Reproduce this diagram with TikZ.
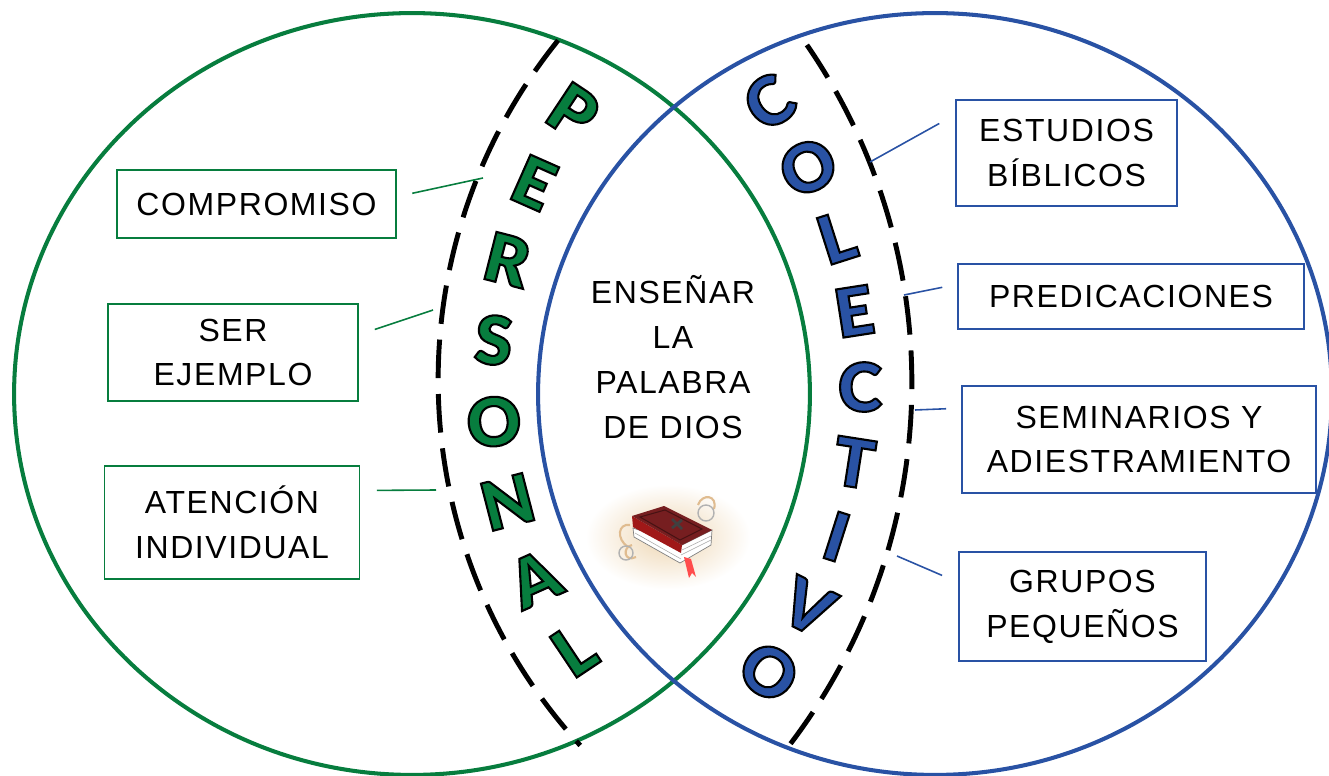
\documentclass[tikz,border=0pt]{standalone}
\usepackage{fontspec}
\setmainfont{Liberation Sans}[LetterSpace=5]
\IfFontExistsTF{Lato Black}
  {\newfontfamily\heavyfont{Lato Black}}
  {\newfontfamily\heavyfont{Liberation Sans}[UprightFont=*-Bold]}
\usepackage{tikz}
\usetikzlibrary{positioning}
\definecolor{vgreen}{RGB}{7,125,62}
\definecolor{vblue}{RGB}{41,82,164}
\definecolor{bookred}{RGB}{118,30,32}
\definecolor{spinered}{RGB}{160,24,24}
\definecolor{glowtan}{RGB}{238,214,178}
\newcommand\outlined[1]{\special{pdf:literal 2 Tr 1.2 w 0 G}#1\special{pdf:literal 0 Tr}}

\begin{document}
\begin{tikzpicture}[x=0.02cm,y=0.02cm,
    txt/.style={font=\fontsize{18.2}{25.6}\selectfont},
    gbox/.style={draw=vgreen,line width=1pt,txt,align=center,inner sep=0pt},
    bbox/.style={draw=vblue,line width=1pt,txt,align=center,inner sep=0pt},
    gline/.style={vgreen,line width=0.9pt},
    bline/.style={vblue,line width=0.9pt},
    ring/.style={line width=2.3pt},
    dasharc/.style={line width=2.8pt,dash pattern=on 22pt off 9pt},
    bigletter/.style={font=\fontsize{38}{38}\selectfont\heavyfont,inner sep=0pt},
  ]
\useasboundingbox (0,0) rectangle (1329,775);
\clip (0,0) rectangle (1329,775);

\draw[vgreen,ring] (412,381) ellipse [x radius=7.96cm,y radius=7.62cm];
\draw[vblue,ring] (935,381) ellipse [x radius=7.94cm,y radius=7.62cm];

\coordinate (pc) at (979,395);
\coordinate (cc) at (368,388);
\draw[dasharc] ([shift={(141.1:10.82cm)}]979,395) arc[start angle=141.1,end angle=222.5,radius=10.82cm];
\draw[dasharc] ([shift={(34.5:11.94cm)}]315,392) arc[start angle=34.5,end angle=-37.3,radius=11.94cm];

\foreach \ch [count=\i from 0] in {P,E,R,S,O,N,A,L} {
  \pgfmathsetmacro\ang{146.5+9.6*\i}
  \node[bigletter,text=vgreen,rotate=\ang-180] (p\i) at ([shift={(\ang:9.74cm)}]pc) {\outlined{\ch}};
}
\foreach \ch [count=\i from 0] in {C,O,L,E,C,T,I,V,O} {
  \pgfmathsetmacro\ang{35.4-8.85*\i}
  \node[bigletter,text=vblue,rotate=\ang] (c\i) at ([shift={(\ang:9.84cm)}]cc) {\outlined{\ch}};
}

\node[gbox,minimum width=5.58cm,minimum height=1.36cm] (comp) at (256.5,571) {COMPROMISO};
\node[gbox,minimum width=5.0cm,minimum height=1.94cm] (ser) at (233,422.5) {SER\\EJEMPLO};
\node[gbox,minimum width=5.1cm,minimum height=2.26cm] (aten) at (232,252.5) {ATENCIÓN\\INDIVIDUAL};
\node[bbox,minimum width=4.42cm,minimum height=2.12cm] (estu) at (1066.5,622) {ESTUDIOS\\BÍBLICOS};
\node[bbox,minimum width=6.92cm,minimum height=1.3cm] (pred) at (1131,478.5) {PREDICACIONES};
\node[bbox,minimum width=7.08cm,minimum height=2.14cm] (semi) at (1139,335.5) {SEMINARIOS Y\\ADIESTRAMIENTO};
\node[bbox,minimum width=4.94cm,minimum height=2.18cm] (grup) at (1082.5,168.5) {GRUPOS\\PEQUEÑOS};

\node[txt,align=center,inner sep=0pt] (word) at (673,418) {ENSEÑAR\\LA\\PALABRA\\DE DIOS};

\coordinate (e1) at (483,597);
\coordinate (e2) at (433,465);
\coordinate (e3) at (436,285);
\coordinate (e4) at (870,613);
\coordinate (e5) at (904,480);
\coordinate (e6) at (915,365);
\coordinate (e7) at (897,219);
\draw[gline,shorten <=0.316cm] (comp.3) -- (e1);
\draw[gline,shorten <=0.336cm] (ser.8.3) -- (e2);
\draw[gline,shorten <=0.33cm] (aten.14.3) -- (e3);
\draw[bline,shorten <=0.364cm] (estu.161.2) -- (e4);
\draw[bline,shorten <=0.304cm] (pred.176.3) -- (e5);
\draw[bline,shorten <=0.3cm] (semi.170.5) -- (e6);
\draw[bline,shorten <=0.35cm] (grup.169.2) -- (e7);

% bible picture
\begin{scope}[shift={(668,242)}]
  \shade[inner color=glowtan,outer color=white] (0,-4) ellipse [x radius=1.65cm,y radius=1.05cm];
  \draw[glowtan!70!brown,line width=1.2pt] (-40,-14) .. controls (-52,-6) and (-50,10) .. (-38,8)
    (-32,-24) .. controls (-44,-30) and (-46,-14) .. (-36,-12)
    (30,28) .. controls (34,40) and (50,38) .. (46,24);
  \draw[gray!60,line width=0.8pt] (38,20) circle [radius=0.16cm] (-42,-20) circle [radius=0.14cm];
  \filldraw[fill=white,draw=gray,line width=0.4pt] (14,-12) -- (44,3) -- (43,-12) -- (12,-30) -- (-34,-4) -- (-35,5) -- cycle;
  \draw[gray!70,line width=0.3pt] (14,-17) -- (43,-3) (13,-22) -- (43,-7) (13,-26) -- (-33,0);
  \fill[spinered] (-36,17) -- (14,-12) -- (13,-20) -- (-35,6) -- cycle;
  \fill[bookred] (-36,17) -- (-4,27) -- (44,3) -- (14,-12) -- cycle;
  \draw[bookred!60!black,line width=0.6pt] (-28,16) -- (-3,23) -- (34,4) -- (12,-7) -- cycle;
  \draw[black!75,line width=1.6pt] (4,14) -- (14,4) (4,5) -- (14,13);
  \fill[red!70!white] (16,-24) -- (23,-26) -- (28,-44) -- (24,-40) -- (21,-45) -- cycle;
\end{scope}
\end{tikzpicture}
\end{document}
